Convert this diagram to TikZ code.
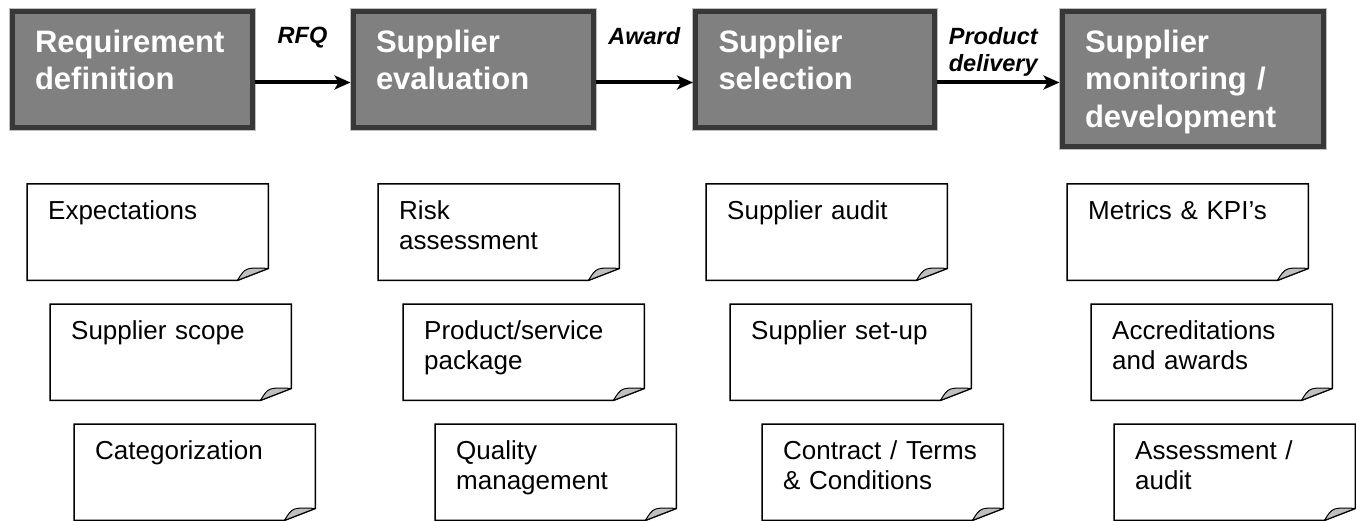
\documentclass[tikz,border=0pt]{standalone}
\usepackage{fontspec}
\setmainfont{Liberation Sans}
\usetikzlibrary{positioning}
\usetikzlibrary{arrows.meta}

\tikzset{
  stage/.style={rectangle, draw=black!78, line width=5pt, fill=black!50,
    preaction={draw=black!25, line width=7pt},
    anchor=north west, inner xsep=23pt, inner ysep=17.5pt,
    text width=194pt, text height=23pt, text depth=58pt,
    align=left, text=white, font=\fontsize{31}{37.5}\selectfont\bfseries},
  flow/.style={line width=4pt, -{Stealth[length=16pt,width=14pt,inset=4pt]}},
  flowlabel/.style={anchor=north, inner sep=0pt, align=center, yshift=57pt,
    font=\fontsize{23.5}{27}\selectfont\bfseries\itshape},
  note/.style={rectangle, anchor=north west, inner xsep=21pt, inner ysep=16pt,
    text width=199pt, text height=19pt, text depth=45pt, align=left,
    font=\fontsize{26}{30}\selectfont},
  noteline/.style={draw=black, line width=1.5pt, line join=miter},
  fold/.style={draw=black, line width=1pt, fill=black!25, line join=round}
}

\begin{document}
\begin{tikzpicture}[x=1pt, y=1pt]
    \useasboundingbox (0,0) rectangle (1356,-521);

    % Stages
    \node[stage] (req) at (9.5,-9.5) {Requirement\\definition};
    \node[stage, right=96pt of req.north east, anchor=north west] (eval) {Supplier\\evaluation};
    \node[stage, right=97.5pt of eval.north east, anchor=north west, text width=193pt] (sel) {Supplier\\selection};
    \node[stage, right=122.5pt of sel.north east, anchor=north west, text width=215pt, text depth=77pt] (mon) {Supplier\\monitoring /\\development};

    % Flow between stages
    \draw[flow] ([yshift=-12.5pt]req.east) -- node[flowlabel] {RFQ} ([yshift=-12.5pt]req.east -| eval.west);
    \draw[flow] ([yshift=-12.5pt]eval.east) -- node[flowlabel] {Award} ([yshift=-12.5pt]eval.east -| sel.west);
    \draw[flow] ([yshift=-12.5pt]sel.east) -- node[flowlabel, xshift=-5pt] {Product\\delivery} ([yshift=-12.5pt]sel.east -| mon.west);

    % Notes: requirement definition
    \node[note] (exp) at (27,-184) {Expectations};
    \node[note] (scope) at (50,-304) {Supplier scope};
    \node[note] (cat) at (74,-424) {Categorization};

    % Notes: supplier evaluation
    \node[note] (risk) at (378,-184) {Risk\\assessment};
    \node[note] (pkg) at (403,-304) {Product/service\\package};
    \node[note] (qual) at (435,-424) {Quality\\management};

    % Notes: supplier selection
    \node[note] (audit) at (706,-184) {Supplier audit};
    \node[note] (setup) at (730,-304) {Supplier set-up};
    \node[note] (terms) at (762,-424) {Contract~/~Terms\\\& Conditions};

    % Notes: supplier monitoring
    \node[note] (kpi) at (1067,-184) {Metrics \& KPI’s};
    \node[note] (accr) at (1091,-304) {Accreditations\\and awards};
    \node[note] (assess) at (1114,-424) {Assessment /\\audit};

    % Note outlines with folded corner
    \foreach \n in {exp,scope,cat,risk,pkg,qual,audit,setup,terms,kpi,accr,assess} {
      \draw[noteline] (\n.north west) -- (\n.north east) -- ([yshift=12pt]\n.south east)
        -- ([xshift=-31pt]\n.south east) -- (\n.south west) -- cycle;
      \filldraw[fold] ([xshift=-31pt]\n.south east) .. controls ([shift={(-23pt,13pt)}]\n.south east)
        .. ([yshift=12pt]\n.south east) -- cycle;
    }

\end{tikzpicture}
\end{document}
